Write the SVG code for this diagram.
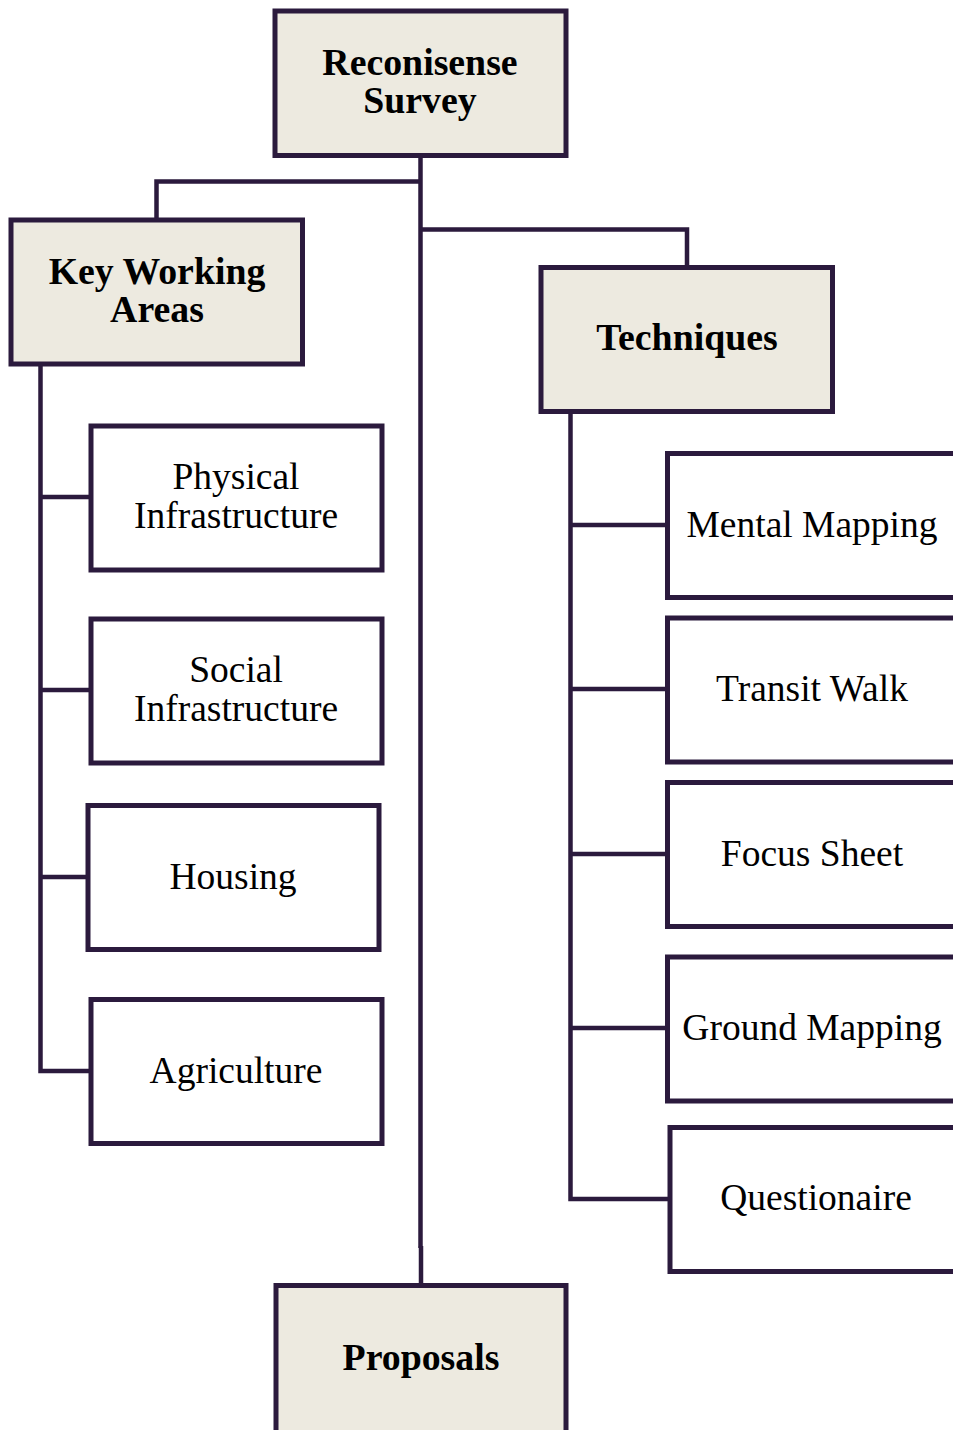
<svg xmlns="http://www.w3.org/2000/svg" width="953" height="1430" viewBox="0 0 953 1430">
<style>
.hdr{fill:#edeae0;stroke:#2b1a3d;stroke-width:5}
.box{fill:#ffffff;stroke:#2b1a3d;stroke-width:5}
.b{font-family:"Liberation Serif","Times New Roman",serif;font-weight:bold;font-size:37.8px;fill:#000;text-anchor:middle}
.t{font-family:"Liberation Serif","Times New Roman",serif;font-size:37.5px;fill:#000;text-anchor:middle}
.c{fill:none;stroke:#2b1a3d;stroke-width:4.5;stroke-linejoin:miter}
</style>
<rect width="953" height="1430" fill="#ffffff"/>
<g id="connectors">
<path class="c" d="M420.5,158 V1248"/>
<path class="c" d="M421,1246 V1284"/>
<path class="c" d="M420.5,181.5 H156.5 V218"/>
<path class="c" d="M420.5,229.5 H687 V266"/>
<path class="c" d="M40.5,366 V1071 H90"/>
<path class="c" d="M40.5,497 H90"/>
<path class="c" d="M40.5,690 H90"/>
<path class="c" d="M40.5,877 H87"/>
<path class="c" d="M570.5,414 V1199 H669"/>
<path class="c" d="M570.5,525 H666"/>
<path class="c" d="M570.5,689 H666"/>
<path class="c" d="M570.5,854 H666"/>
<path class="c" d="M570.5,1028 H666"/>
</g>
<g id="node-reconisense">
<rect class="hdr" x="275" y="11" width="291" height="144.5"/>
<text class="b" x="420" y="75">Reconisense</text>
<text class="b" x="420" y="113">Survey</text>
</g>
<g id="node-kwa">
<rect class="hdr" x="11" y="220" width="291.5" height="144"/>
<text class="b" x="157" y="284">Key Working</text>
<text class="b" x="157" y="322">Areas</text>
</g>
<g id="node-techniques">
<rect class="hdr" x="541" y="267.5" width="291.5" height="144"/>
<text class="b" x="687" y="350">Techniques</text>
</g>
<g id="node-physical">
<rect class="box" x="91" y="426" width="291" height="144"/>
<text class="t" x="236" y="489">Physical</text>
<text class="t" x="236" y="528">Infrastructure</text>
</g>
<g id="node-social">
<rect class="box" x="91" y="619" width="291" height="144"/>
<text class="t" x="236" y="682">Social</text>
<text class="t" x="236" y="721">Infrastructure</text>
</g>
<g id="node-housing">
<rect class="box" x="88" y="805.5" width="291" height="144"/>
<text class="t" x="233" y="889">Housing</text>
</g>
<g id="node-agriculture">
<rect class="box" x="91" y="999.5" width="291" height="144"/>
<text class="t" x="236" y="1083">Agriculture</text>
</g>
<g id="node-mental">
<rect class="box" x="667.5" y="453.5" width="320" height="144"/>
<text class="t" x="812" y="537">Mental Mapping</text>
</g>
<g id="node-transit">
<rect class="box" x="667.5" y="618" width="320" height="144"/>
<text class="t" x="812" y="701">Transit Walk</text>
</g>
<g id="node-focus">
<rect class="box" x="667.5" y="782.5" width="320" height="144"/>
<text class="t" x="812" y="866">Focus Sheet</text>
</g>
<g id="node-ground">
<rect class="box" x="667.5" y="957" width="320" height="144"/>
<text class="t" x="812" y="1040">Ground Mapping</text>
</g>
<g id="node-questionaire">
<rect class="box" x="670" y="1127.5" width="320" height="144"/>
<text class="t" x="816" y="1210">Questionaire</text>
</g>
<g id="node-proposals">
<rect class="hdr" x="276" y="1285.5" width="290" height="200"/>
<text class="b" x="421" y="1370">Proposals</text>
</g>
</svg>
